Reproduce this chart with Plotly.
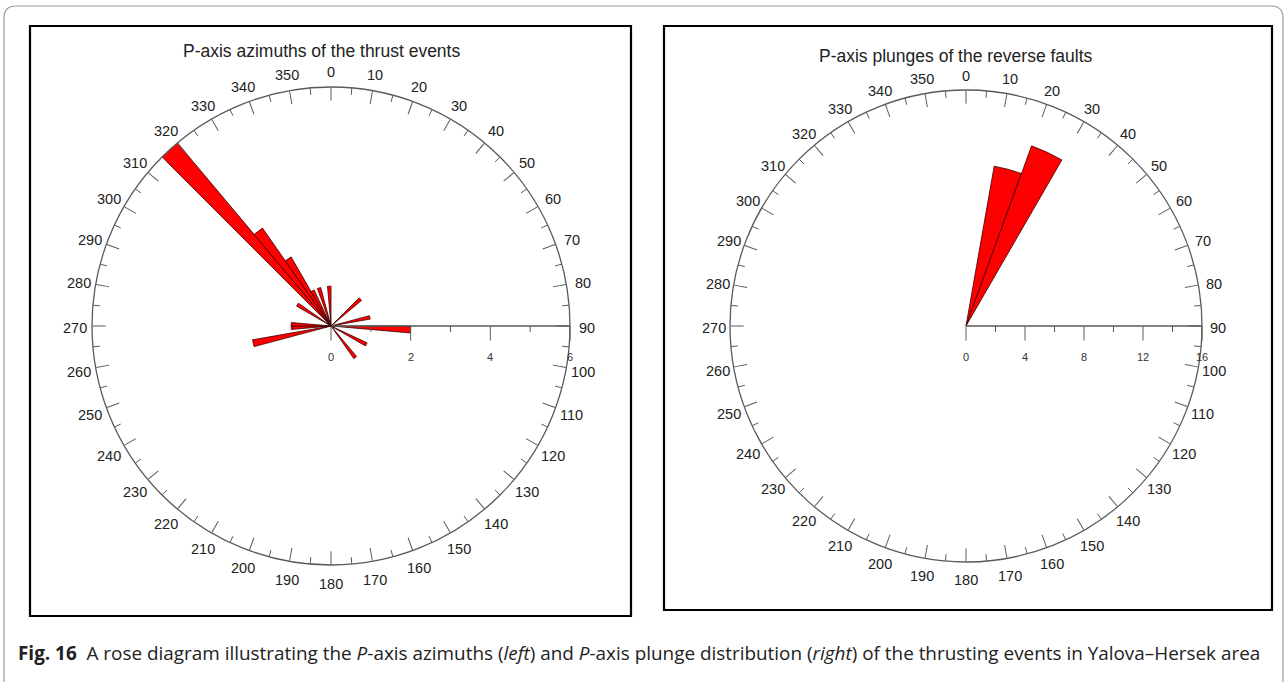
import math
import plotly.graph_objects as go

W, H = 1287, 682

# ---------------- data ----------------
# Left: P-axis azimuths (5-degree bins, bin centres) and counts
az_theta = [47.5, 77.5, 92.5, 117.5, 142.5, 257.5, 267.5, 272.5, 302.5,
            317.5, 322.5, 327.5, 332.5, 342.5, 357.5]
az_count = [1, 1, 2, 1, 1, 2, 1, 1, 1, 6, 3, 2, 1, 1, 1]
az_width = 5
az_rmax = 6
az_rmajor = [0, 2, 4, 6]
az_rminor = [1, 3, 5]

# Right: P-axis plunges (10-degree bins, bin centres) and counts
pl_theta = [15, 25]
pl_count = [11, 13]
pl_width = 10
pl_rmax = 16
pl_rmajor = [0, 4, 8, 12, 16]
pl_rminor = [2, 6, 10, 14]

ang_ticks = list(range(0, 360, 10))
ang_labels = [str(a) for a in ang_ticks]
minor_ang = list(range(5, 360, 10))

title_left = "P-axis azimuths of the thrust events"
title_right = "P-axis plunges of the reverse faults"
caption = ("<b>Fig. 16</b>  A rose diagram illustrating the <i>P</i>-axis azimuths "
           "(<i>left</i>) and <i>P</i>-axis plunge distribution (<i>right</i>) of the "
           "thrusting events in Yalova–Hersek area")

# ---------------- geometry helpers ----------------
def px(x):
    return x / W

def py(y):
    return 1 - y / H

LINE = "#5a5a5a"
FONT = "Liberation Sans, Arial, sans-serif"

# panel geometry (pixels): centre x, centre y, circle radius
LEFT = (331, 326, 239)
RIGHT = (966, 326, 236)

fig = go.Figure()
anns = []


def add_lines(r, t, subplot):
    fig.add_trace(go.Scatterpolar(r=r, theta=t, mode="lines", subplot=subplot,
                                  line=dict(color=LINE, width=1), hoverinfo="skip",
                                  showlegend=False, connectgaps=False, cliponaxis=False))


def minor_ticks(rmax, rad_px, subplot):
    r, t = [], []
    inner = rmax * (1 - 7.0 / rad_px)
    for a in minor_ang:
        r += [inner, rmax, None]
        t += [a, a, None]
    add_lines(r, t, subplot)


def radial_minor(vals, rmax, rad_px, subplot):
    r, t = [], []
    d = 6.0 * rmax / rad_px
    for v in vals:
        r += [v, math.hypot(v, d), None]
        t += [90, 90 + math.degrees(math.atan2(d, v)), None]
    add_lines(r, t, subplot)


def radial_labels(vals, rmax, geom):
    cx, cy, rad = geom
    for v in vals:
        anns.append(dict(text=str(v), x=px(cx + v / rmax * rad), y=py(cy + 31),
                         xref="paper", yref="paper", showarrow=False,
                         xanchor="center", yanchor="middle",
                         font=dict(family=FONT, size=11, color="#333")))


def angle_labels(geom, rlab):
    cx, cy, rad = geom
    for a, lab in zip(ang_ticks, ang_labels):
        th = math.radians(a)
        anns.append(dict(text=lab, x=px(cx + rlab * math.sin(th)),
                         y=py(cy - rlab * math.cos(th) + 1.5),
                         xref="paper", yref="paper", showarrow=False,
                         xanchor="center", yanchor="middle",
                         font=dict(family=FONT, size=14.5, color="#222")))


fig.add_trace(go.Barpolar(r=az_count, theta=az_theta, width=[az_width] * len(az_theta),
                          marker=dict(color="#ff0000", line=dict(color="#3a0000", width=0.8)),
                          subplot="polar", showlegend=False))
fig.add_trace(go.Barpolar(r=pl_count, theta=pl_theta, width=[pl_width] * len(pl_theta),
                          marker=dict(color="#ff0000", line=dict(color="#3a0000", width=0.8)),
                          subplot="polar2", showlegend=False))

minor_ticks(az_rmax, LEFT[2], "polar")
minor_ticks(pl_rmax, RIGHT[2], "polar2")
radial_minor(az_rminor, az_rmax, LEFT[2], "polar")
radial_minor(pl_rminor, pl_rmax, RIGHT[2], "polar2")
radial_labels(az_rmajor, az_rmax, LEFT)
radial_labels(pl_rmajor, pl_rmax, RIGHT)
angle_labels(LEFT, 256)
angle_labels(RIGHT, 252)


def polar_layout(geom, rmax, rticks):
    cx, cy, rad = geom
    return dict(
        domain=dict(x=[px(cx - rad), px(cx + rad)], y=[py(cy + rad), py(cy - rad)]),
        bgcolor="white",
        angularaxis=dict(direction="clockwise", rotation=90, tickmode="array",
                         tickvals=ang_ticks, ticks="inside", showticklabels=False,
                         ticklen=13, tickwidth=1, tickcolor=LINE, showgrid=False,
                         showline=True, linecolor=LINE, linewidth=1.3),
        radialaxis=dict(range=[0, rmax], angle=0, side="clockwise",
                        tickmode="array", tickvals=rticks, showticklabels=False,
                        ticks="outside", ticklen=14, tickwidth=1, tickcolor=LINE,
                        showgrid=False, showline=True, linecolor=LINE, linewidth=1.3),
    )


fig.update_layout(
    width=W, height=H,
    margin=dict(l=0, r=0, t=0, b=0),
    paper_bgcolor="white", plot_bgcolor="white",
    showlegend=False,
    polar=polar_layout(LEFT, az_rmax, az_rmajor),
    polar2=polar_layout(RIGHT, pl_rmax, pl_rmajor),
)

shapes = []
# panel frames
shapes.append(dict(type="rect", xref="paper", yref="paper", x0=px(30), x1=px(631),
                   y0=py(616), y1=py(26), line=dict(color="black", width=2.2)))
shapes.append(dict(type="rect", xref="paper", yref="paper", x0=px(664), x1=px(1272),
                   y0=py(610), y1=py(26), line=dict(color="black", width=2.2)))
# outer rounded border (open at bottom)
rc = 12
path = (f"M {px(4)},{py(700)} L {px(4)},{py(6 + rc)} Q {px(4)},{py(6)} {px(4 + rc)},{py(6)} "
        f"L {px(1283 - rc)},{py(6)} Q {px(1283)},{py(6)} {px(1283)},{py(6 + rc)} L {px(1283)},{py(700)}")
shapes.append(dict(type="path", xref="paper", yref="paper", path=path,
                   line=dict(color="#9a9a9a", width=1.2)))
fig.update_layout(shapes=shapes)

anns += [
    dict(text=title_left, x=px(321), y=py(51), xref="paper", yref="paper",
         showarrow=False, font=dict(family=FONT, size=17.5, color="#222"),
         xanchor="center", yanchor="middle"),
    dict(text=title_right, x=px(956), y=py(56), xref="paper", yref="paper",
         showarrow=False, font=dict(family=FONT, size=17.5, color="#222"),
         xanchor="center", yanchor="middle"),
    dict(text=caption, x=px(16), y=py(653), xref="paper", yref="paper",
         showarrow=False, font=dict(family="Open Sans, sans-serif", size=18.9, color="#222"),
         xanchor="left", yanchor="middle"),
]
fig.update_layout(annotations=anns)

fig.write_html("out.html", config={"displayModeBar": False},
               post_script="document.body.style.margin='0px';document.body.style.overflow='hidden';")
